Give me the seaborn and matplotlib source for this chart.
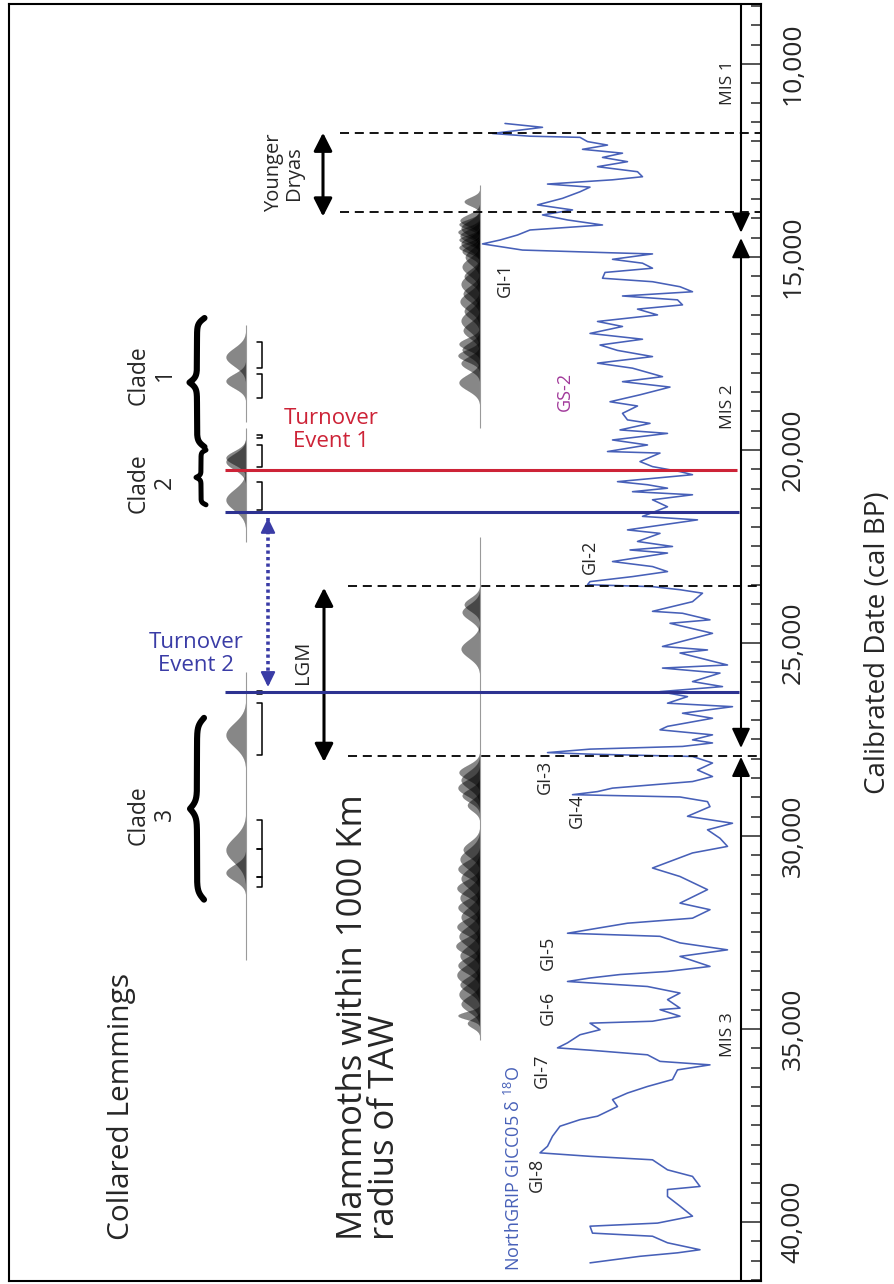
import numpy as np
import seaborn as sns
import matplotlib.pyplot as plt
from matplotlib.ticker import MultipleLocator, FuncFormatter

# -------------------------------------------------
# 1. Data
# -------------------------------------------------
# NorthGRIP GICC05 d18O record (age cal BP, permil)
ngrip_age = [
    11540, 11640, 11800, 11870, 11900, 12010, 12100, 12210, 12310, 12420,
    12530, 12660, 12790, 12920, 13000, 13110, 13190, 13310, 13480, 13650,
    13780, 13910, 14040, 14170, 14300, 14430, 14560, 14660, 14820, 14890,
    14920, 15060, 15160, 15290, 15400, 15550, 15640, 15770, 15900, 16010,
    16110, 16240, 16350, 16500, 16670, 16800, 16980, 17130, 17280, 17420,
    17580, 17750, 17880, 18100, 18230, 18370, 18570, 18750, 18860, 19050,
    19220, 19310, 19480, 19570, 19740, 19870, 20040, 20080, 20300, 20430,
    20560, 20640, 20820, 20900, 20990, 21080, 21160, 21290, 21470, 21720,
    21810, 22070, 22160, 22370, 22500, 22590, 22670, 22890, 23020, 23150,
    23280, 23410, 23490, 23540, 23620, 23710, 23930, 24180, 24230, 24400,
    24490, 24750, 25090, 25180, 25260, 25570, 25650, 25780, 26000, 26130,
    26260, 26390, 26560, 26650, 26820, 26950, 27160, 27250, 27380, 27510,
    27590, 27680, 27750, 27840, 27880, 27940, 28110, 28290, 28460, 28590,
    28760, 28850, 28930, 28990, 29110, 29240, 29490, 29670, 29840, 30060,
    30270, 30440, 30830, 31050, 31390, 31740, 31910, 32130, 32260, 32390,
    32520, 32600, 32770, 32950, 33120, 33380, 33510, 33590, 33680, 33770,
    33900, 34070, 34240, 34460, 34500, 34670, 34800, 34850, 35020, 35150,
    35360, 35490, 35550, 35670, 35840, 35930, 36060, 36310, 36490, 36660,
    36830, 37010, 37260, 37350, 37520, 37780, 38040, 38210, 38300, 38390,
    38650, 38820, 39080, 39160, 39340, 39590, 39850, 40030, 40110, 40290,
    40370, 40540, 40720, 40800, 40890, 41060,
]
ngrip_d18o = [
    -36.0, -37.5, -35.5, -37.0, -39.0, -39.3, -40.1, -39.1, -40.7, -39.9,
    -40.9, -39.7, -41.3, -41.5, -40.3, -37.7, -39.4, -39.0, -38.3, -37.3,
    -38.7, -37.5, -38.5, -39.9, -37.0, -36.5, -35.8, -35.1, -36.7, -40.2,
    -41.9, -40.3, -41.5, -41.9, -40.0, -39.9, -41.9, -43.0, -43.5, -40.7,
    -42.9, -43.1, -41.3, -42.1, -39.7, -40.7, -39.4, -41.5, -39.8, -40.5,
    -41.9, -39.7, -41.1, -42.3, -40.7, -42.6, -41.4, -40.2, -41.3, -40.7,
    -40.9, -41.8, -40.6, -42.5, -40.3, -41.7, -40.1, -42.2, -41.4, -41.9,
    -43.0, -43.5, -40.5, -41.7, -42.5, -41.1, -43.5, -41.9, -42.5, -41.5,
    -43.7, -40.9, -42.2, -41.3, -42.7, -41.0, -42.5, -40.3, -41.9, -42.5,
    -41.1, -39.4, -39.3, -41.9, -43.0, -43.9, -43.5, -41.9, -43.1, -44.2,
    -42.6, -44.3, -42.3, -44.1, -43.0, -44.9, -42.3, -44.6, -43.5, -44.7,
    -42.2, -43.3, -42.5, -45.1, -43.1, -44.3, -42.5, -42.2, -44.3, -43.5,
    -44.3, -43.1, -39.4, -37.7, -39.4, -43.5, -44.3, -43.7, -44.3, -43.5,
    -40.3, -39.7, -38.7, -43.0, -44.1, -44.2, -43.3, -45.1, -44.1, -44.6,
    -44.9, -43.5, -41.9, -43.0, -44.1, -43.0, -44.2, -43.5, -40.9, -39.7,
    -38.5, -42.2, -43.0, -44.9, -43.0, -44.2, -42.5, -40.6, -39.4, -38.5,
    -41.7, -43.0, -42.5, -43.0, -42.2, -43.0, -41.9, -39.4, -39.8, -39.0,
    -38.5, -38.1, -39.4, -41.7, -42.2, -44.2, -42.9, -42.7, -41.7, -40.9,
    -40.3, -40.5, -39.7, -39.0, -38.2, -37.9, -37.7, -37.4, -39.4, -41.9,
    -42.5, -43.5, -43.8, -42.5, -42.5, -43.0, -43.5, -42.1, -39.4, -39.5,
    -41.9, -42.5, -43.8, -42.9, -41.4, -39.4,
]

# calibrated mammoth dates within 1000 km of TAW: median, 1 sd, relative peak
mammoth_age = [
    13560, 14050, 14150, 14250, 14350, 14450, 14550, 14650, 14750, 14850,
    15000, 15250, 15500, 15700, 15950, 16150, 16400, 16650, 16900,
    17250, 17400, 17550, 17750, 18250,
    24000, 24200, 25150,
    28350, 28550, 28750, 28950, 29200,
    30350, 30600, 30850, 31100, 31350, 31600, 31850, 32100, 32350, 32600,
    32850, 33100, 33350, 33600, 33850, 34100, 34350, 34650, 34850,
]
mammoth_sd = [
    110, 150, 120, 180, 130, 160, 120, 170, 130, 150,
    200, 220, 180, 250, 200, 230, 200, 250, 200,
    150, 180, 150, 170, 200,
    170, 200, 230,
    180, 220, 200, 170, 150,
    200, 250, 200, 250, 200, 250, 200, 250, 200, 250,
    200, 250, 200, 250, 200, 250, 200, 100, 120,
]
mammoth_peak = [
    0.75, 0.95, 1.0, 0.9, 1.05, 0.95, 1.0, 0.9, 1.0, 0.85,
    0.7, 0.85, 0.75, 0.9, 0.8, 0.95, 0.75, 0.9, 0.8,
    1.0, 0.85, 1.05, 0.9, 1.0,
    0.75, 0.85, 0.9,
    1.0, 0.9, 1.05, 0.85, 0.6,
    0.8, 0.95, 1.05, 0.9, 1.1, 0.95, 1.05, 0.9, 1.1, 1.0,
    1.15, 0.95, 1.05, 1.1, 0.95, 1.0, 0.9, 1.05, 0.6,
]

# collared lemming dates (median, 1 sd)
lemming_age = [17590, 18210, 20200, 20300, 21290, 27380, 30360, 30950]
lemming_sd = [230, 180, 170, 200, 260, 300, 320, 200]

# date ranges shown by the small brackets beside the lemming dates
bracket_lo = [17200, 18030, 19610, 19870, 20830, 26250, 26550, 29580, 30350, 31070]
bracket_hi = [17870, 18650, 19690, 20440, 21550, 26330, 27900, 30350, 31070, 31330]

clade_names = ["Clade\n1", "Clade\n2", "Clade\n3"]
clade_lo = [16580, 20000, 26940]
clade_hi = [19920, 21420, 31650]

turnover_1 = 20520
turnover_2 = [21610, 26270]
younger_dryas = [11790, 13830]
lgm = [23520, 27920]

gi_names = ["GI-1", "GI-2", "GI-3", "GI-4", "GI-5", "GI-6", "GI-7", "GI-8"]
gi_age = [15590, 22770, 28470, 29350, 33020, 34450, 36080, 38780]

mis_names = ["MIS 1", "MIS 2", "MIS 3"]
mis_label_age = [10470, 18880, 35150]
mis_bounds = [14440, 27830]

# -------------------------------------------------
# 2. Style
# -------------------------------------------------
sns.set_style("white")
plt.rcParams['font.family'] = ['Open Sans', 'DejaVu Sans']
plt.rcParams['mathtext.fontset'] = 'custom'
plt.rcParams['mathtext.rm'] = 'Open Sans'
plt.rcParams['mathtext.default'] = 'regular'

RED = '#cd2337'
NAVY = '#2d3291'
BLUE_TXT = '#3a3ca6'
CURVE = '#4760b8'

fig = plt.figure(figsize=(8.95, 12.84), dpi=100)
# x of the main axes runs in layout units (0..895 across the page)
ax = fig.add_axes([9 / 895, 3 / 1284, 752 / 895, 1277 / 1284])
ax2 = ax.twiny()

# -------------------------------------------------
# 3. NorthGRIP curve on its own (reversed) d18O scale
# -------------------------------------------------
sns.lineplot(x=ngrip_d18o, y=ngrip_age, sort=False, estimator=None,
             ax=ax2, color=CURVE, lw=1.15)
ax2.set_xlim(-16.16, -46.24)
ax2.set_xticks([])
ax2.set_xlabel("")
ax2.set_ylabel("")
for s in ax2.spines.values():
    s.set_visible(False)

ax.set_zorder(ax2.get_zorder() + 1)
ax.patch.set_visible(False)


# -------------------------------------------------
# 4. Date densities
# -------------------------------------------------
def draw_dates(ages, sds, peaks, base, amp):
    for mu, sd, pk in zip(ages, sds, peaks):
        t = np.linspace(mu - 3.5 * sd, mu + 3.5 * sd, 120)
        w = amp * pk * np.exp(-0.5 * ((t - mu) / sd) ** 2)
        ax.fill_betweenx(t, base - w, base, facecolor='black',
                         edgecolor='#333333', linewidth=0.2, alpha=0.47)


ax.vlines([480, 480], [13130, 22250], [19430, 35280], color='#9a9a9a', lw=0.8)
draw_dates(mammoth_age, mammoth_sd, mammoth_peak, 480, 21)

ax.vlines([246, 246, 246], [16760, 19430, 25750], [19270, 22380, 33210], color='#9a9a9a', lw=0.8)
draw_dates(lemming_age, lemming_sd, [1.0] * len(lemming_age), 246, 20)

for lo, hi in zip(bracket_lo, bracket_hi):
    ax.plot([257, 261.5, 261.5, 257], [lo, lo, hi, hi], color='black', lw=1.1)


def curly_brace(x, y0, y1, width, lw=4.4):
    s = np.linspace(0, 0.5, 150)
    beta = 45.0
    half = 1 / (1 + np.exp(-beta * (s - s[0]))) + 1 / (1 + np.exp(-beta * (s - s[-1])))
    prof = np.concatenate([half, half[-2::-1]])
    ys = np.linspace(y0, y1, prof.size)
    ax.plot(x - width * (prof - 1.0), ys, color='black', lw=lw, solid_capstyle='round')


curly_brace(197, clade_lo[0], clade_hi[0], 15)
curly_brace(201, clade_lo[1], clade_hi[1], 10, lw=3.6)
curly_brace(197, clade_lo[2], clade_hi[2], 14)

clade_y = [18050, 20850, 29450]
for name, cy in zip(clade_names, clade_y):
    ax.text(152, cy, name, rotation=90, rotation_mode='anchor', ha='center',
            va='center', multialignment='center', fontsize=16.5, linespacing=1.1)

# -------------------------------------------------
# 5. Event lines, periods and arrows
# -------------------------------------------------
ax.hlines(turnover_1, 225, 737, color=RED, lw=2.2, zorder=5)
ax.hlines(turnover_2, 225, 739, color=NAVY, lw=2.2, zorder=5)

dash = (0, (5, 3.2))
ax.hlines(younger_dryas, 340, 761, color='black', lw=1.3, linestyles=[dash])
ax.hlines(lgm, 348, 761, color='black', lw=1.3, linestyles=[dash])

dbl = dict(arrowstyle='<|-|>,head_length=0.55,head_width=0.28', color='black',
           lw=2.2, shrinkA=0, shrinkB=0, mutation_scale=20)
ax.annotate('', xy=(323, 11780), xytext=(323, 13950), arrowprops=dbl)
ax.annotate('', xy=(324, 23570), xytext=(324, 28080), arrowprops=dbl)

ax.text(284, 12820, "Younger\nDryas", rotation=90, rotation_mode='anchor',
        ha='center', va='center', multialignment='center', fontsize=14.5, linespacing=1.05)
ax.text(303, 25510, "LGM", rotation=90, rotation_mode='anchor',
        ha='center', va='center', fontsize=14.5)

# turnover 2 dotted double arrow
ax.plot([268, 268], [turnover_2[0] + 160, turnover_2[1] - 160], color=BLUE_TXT,
        lw=2.6, ls=(0, (0.9, 0.9)))
head = dict(arrowstyle='-|>,head_length=0.45,head_width=0.22', color=BLUE_TXT,
            lw=1.5, shrinkA=0, shrinkB=0, mutation_scale=20)
ax.annotate('', xy=(268, turnover_2[0] + 150), xytext=(268, turnover_2[0] + 400), arrowprops=head)
ax.annotate('', xy=(268, turnover_2[1] - 130), xytext=(268, turnover_2[1] - 380), arrowprops=head)

ax.text(331, 19480, "Turnover\nEvent 1", color=RED, ha='center', va='center',
        multialignment='center', fontsize=16, linespacing=1.15)
ax.text(196, 25280, "Turnover\nEvent 2", color=BLUE_TXT, ha='center', va='center',
        multialignment='center', fontsize=16, linespacing=1.15)

# MIS stage arrows along the axis
mis = dict(arrowstyle='-|>,head_length=0.6,head_width=0.28', color='black',
           lw=1.5, shrinkA=0, shrinkB=0, mutation_scale=20)
mis2 = dict(mis, arrowstyle='<|-|>,head_length=0.6,head_width=0.28')
ax.annotate('', xy=(741, mis_bounds[0] - 70), xytext=(741, 8445), arrowprops=mis)
ax.annotate('', xy=(741, mis_bounds[0] + 70), xytext=(741, mis_bounds[1] - 110), arrowprops=mis2)
ax.annotate('', xy=(741, mis_bounds[1] + 120), xytext=(741, 41530), arrowprops=mis)
for name, my in zip(mis_names, mis_label_age):
    ax.text(728, my, name, rotation=90, rotation_mode='anchor', ha='center',
            va='center', fontsize=12.5)

# -------------------------------------------------
# 6. Labels on the curve
# -------------------------------------------------
gi_x = [505, 590, 545, 577, 548, 548, 542, 537]
for name, gx, gy in zip(gi_names, gi_x, gi_age):
    ax.text(gx, gy, name, rotation=90, rotation_mode='anchor', ha='center',
            va='center', fontsize=13)
ax.text(565, 18470, "GS-2", color='#a1399a', rotation=90, rotation_mode='anchor',
        ha='center', va='center', fontsize=13)
ax.text(514, 38620, "NorthGRIP GICC05 δ $^{18}$O", color=CURVE, rotation=90,
        rotation_mode='anchor', ha='center', va='center', fontsize=13)

ax.text(121, 40460, "Collared Lemmings", rotation=90, rotation_mode='anchor',
        ha='left', va='center', fontsize=21.5)
ax.text(369, 40460, "Mammoths within 1000 Km\nradius of TAW", rotation=90,
        rotation_mode='anchor', ha='left', va='center', multialignment='left',
        fontsize=25, linespacing=0.95)

# -------------------------------------------------
# 7. Axis
# -------------------------------------------------
ax.set_xlim(9, 761)
ax.set_ylim(41530, 8445)
ax.set_xticks([])
ax.yaxis.tick_right()
ax.yaxis.set_label_position('right')
ax.yaxis.set_major_locator(MultipleLocator(5000))
ax.yaxis.set_minor_locator(MultipleLocator(500))
ax.yaxis.set_major_formatter(FuncFormatter(lambda v, p: f"{v:,.0f}"))
ax.tick_params(axis='y', which='major', direction='in', length=14.4, width=1.1,
               pad=14, labelsize=19, labelrotation=90, right=True, left=False)
ax.tick_params(axis='y', which='minor', direction='in', length=7.2, width=1.1,
               right=True, left=False)
plt.setp(ax.get_yticklabels(), va='center')
ax.set_ylabel("Calibrated Date (cal BP)", fontsize=20, labelpad=42)
for s in ax.spines.values():
    s.set_visible(True)
    s.set_color('black')
    s.set_linewidth(1.5)

fig.savefig("out.png", dpi=100)
